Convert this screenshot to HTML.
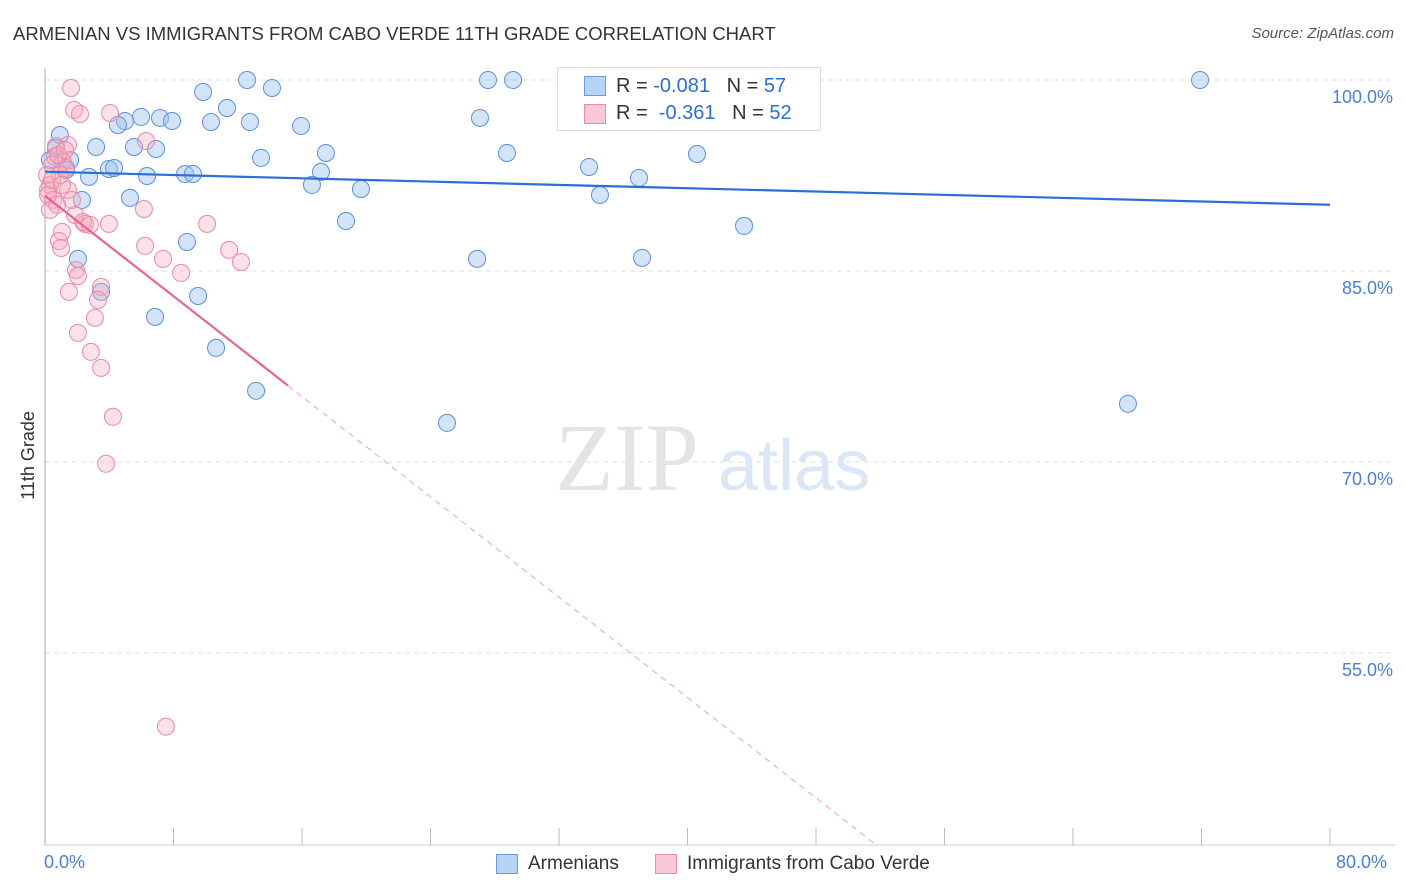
<!DOCTYPE html>
<html><head><meta charset="utf-8"><style>
body{margin:0;background:#fff;font-family:"Liberation Sans",sans-serif;}
#wrap{position:relative;width:1406px;height:892px;overflow:hidden;}
.t{position:absolute;white-space:nowrap;}
</style></head><body>
<div id="wrap">
<div class="t" style="left:13px;top:23px;font-size:18.5px;color:#333;">ARMENIAN VS IMMIGRANTS FROM CABO VERDE 11TH GRADE CORRELATION CHART</div>
<div class="t" style="right:12px;top:25px;font-size:15px;color:#555;font-style:italic;">Source: ZipAtlas.com</div>
<div class="t" style="left:-16px;top:445px;font-size:18px;color:#333;transform:rotate(-90deg);">11th Grade</div>
<svg id="plot" width="1406" height="892" style="position:absolute;left:0;top:0"></svg>
</div>
<script>
const blueX=[12.58,14.13,9.84,11.33,27.58,29.14,32.75,71.91,40.16,5.98,7.16,7.91,4.98,4.54,10.33,12.76,15.94,27.08,0.93,3.18,5.54,6.91,1.56,13.45,17.49,28.76,40.59,0.68,3.98,4.30,6.35,2.74,8.72,9.21,17.18,16.62,19.67,33.87,36.98,34.55,5.29,2.30,18.74,43.52,8.84,2.05,26.90,37.17,3.49,9.53,6.85,10.65,13.14,25.03,67.42,1.31,0.31];
const blueY=[100,99.37,99.06,97.8,100,100,100,100,97.88,97.1,97.02,96.78,96.78,96.47,96.7,96.7,96.39,97.02,95.68,94.74,94.74,94.58,93.72,93.88,94.27,94.27,94.19,94.66,93.01,93.09,92.46,92.39,92.62,92.62,92.78,91.76,91.44,93.17,92.31,90.97,90.74,90.58,88.93,88.54,87.28,85.95,85.95,86.03,83.36,83.04,81.4,78.96,75.59,73.07,74.57,92.93,93.72];
const pinkX=[1.62,1.81,2.18,4.05,6.29,1.43,0.68,0.62,1.12,1.31,0.44,0.31,0.19,0.5,0.75,1.43,0.31,6.16,1.87,2.49,2.37,3.98,10.09,1.06,0.87,1.0,6.23,11.46,7.35,12.2,1.93,2.05,8.47,1.49,3.49,3.3,3.11,2.05,2.86,3.49,4.23,3.8,7.53,0.93,1.68,0.12,0.81,1.25,2.8,0.19,0.44,1.06];
const pinkY=[99.37,97.64,97.33,97.41,95.21,94.9,94.82,93.96,93.56,93.09,93.33,91.76,91.36,90.58,90.19,91.36,89.8,89.87,89.4,88.7,88.85,88.7,88.7,88.07,87.36,86.81,86.97,86.66,85.95,85.71,85.08,84.61,84.85,83.36,83.75,82.73,81.32,80.14,78.65,77.39,73.55,69.86,49.22,92.54,90.58,92.54,94.11,94.5,88.62,90.97,92.15,91.76];
const yTicks=[100,85,70,55];
const yTickLabels=["100.0%","85.0%","70.0%","55.0%"];
const blueTrend=[92.8,90.2]; // at x=0 and x=80
const pinkTrend=[90.9,-0.985]; // intercept, slope
const X=v=>45+v*16.0625, Y=v=>80+(100-v)*191/15;
const svg=document.getElementById('plot');const NS='http://www.w3.org/2000/svg';
function mk(t,a){const e=document.createElementNS(NS,t);for(const k in a)e.setAttribute(k,a[k]);svg.appendChild(e);return e;}
yTicks.forEach((v,i)=>{const g=mk('line',{x1:45,x2:1395,y1:Y(v),y2:Y(v),stroke:'#ddd','stroke-dasharray':'5,4'});


const t=mk('text',{x:1393,y:Y(v)+23,'text-anchor':'end','font-size':18,fill:'#4a7fd4','font-family':'Liberation Sans'});t.textContent=yTickLabels[i];

});
let a=mk('line',{x1:45,x2:45,y1:68,y2:845,stroke:'#aaa'});


a=mk('line',{x1:45,x2:1395,y1:845,y2:845,stroke:'#ccc'});


for(let v=8;v<=80;v+=8){const tk=mk('line',{x1:X(v),x2:X(v),y1:828,y2:845,stroke:'#bbb'});

}
const wm=mk('text',{x:555,y:490,'font-size':96,fill:'#e4e4e4','font-family':'Liberation Serif'});wm.textContent='ZIP';


const wm2=mk('text',{x:718,y:490,'font-size':72,fill:'#dbe6f6','font-family':'Liberation Sans'});wm2.textContent='atlas';


blueX.forEach((x,i)=>{const c=mk('circle',{cx:X(x),cy:Y(blueY[i]),r:8.5,fill:'rgba(160,196,240,0.45)',stroke:'#5b8fdc','stroke-width':1});

});
pinkX.forEach((x,i)=>{const c=mk('circle',{cx:X(x),cy:Y(pinkY[i]),r:8.5,fill:'rgba(245,170,190,0.35)',stroke:'#e88aa6','stroke-width':1});

});
let l=mk('line',{x1:X(0),y1:Y(blueTrend[0]),x2:X(80),y2:Y(blueTrend[1]),stroke:'#2a6fd6','stroke-width':2.2});


const pe=15.13, pend=(40-pinkTrend[0])/pinkTrend[1];
l=mk('line',{x1:X(0),y1:Y(pinkTrend[0]),x2:X(pe),y2:Y(pinkTrend[0]+pinkTrend[1]*pe),stroke:'#e8648f','stroke-width':2.2});


l=mk('line',{x1:X(pe),y1:Y(pinkTrend[0]+pinkTrend[1]*pe),x2:X(pend),y2:Y(40),stroke:'#eaa0b8','stroke-width':1,'stroke-dasharray':'6,5'});


</script>
<div style="position:absolute;left:557px;top:67px;width:262px;height:62px;background:#fff;border:1px solid #ddd;font-size:20px;">
<div style="position:absolute;left:26px;top:8px;width:20px;height:18px;background:#b9d3f5;border:1px solid #6b9be0"></div>
<div class="t" style="left:58px;top:7px;color:#333">R = <span style="color:#2a6fd6">-0.081</span>&nbsp;&nbsp;&nbsp;N = <span style="color:#2a6fd6">57</span></div>
<div style="position:absolute;left:26px;top:36px;width:20px;height:18px;background:#f9c8d6;border:1px solid #e88aa6"></div>
<div class="t" style="left:58px;top:34px;color:#333">R = &nbsp;<span style="color:#2a6fd6">-0.361</span>&nbsp;&nbsp;&nbsp;N = <span style="color:#2a6fd6">52</span></div>
</div>
<div class="t" style="left:44px;top:852px;font-size:18px;color:#4a7fd4">0.0%</div>
<div class="t" style="left:1336px;top:852px;font-size:18px;color:#4a7fd4">80.0%</div>
<div style="position:absolute;left:496px;top:854px;width:20px;height:18px;background:#b9d3f5;border:1px solid #6b9be0"></div>
<div class="t" style="left:528px;top:853px;font-size:19px;color:#333">Armenians</div>
<div style="position:absolute;left:655px;top:854px;width:20px;height:18px;background:#f9c8d6;border:1px solid #e88aa6"></div>
<div class="t" style="left:687px;top:853px;font-size:19px;color:#333">Immigrants from Cabo Verde</div>
</body></html>
